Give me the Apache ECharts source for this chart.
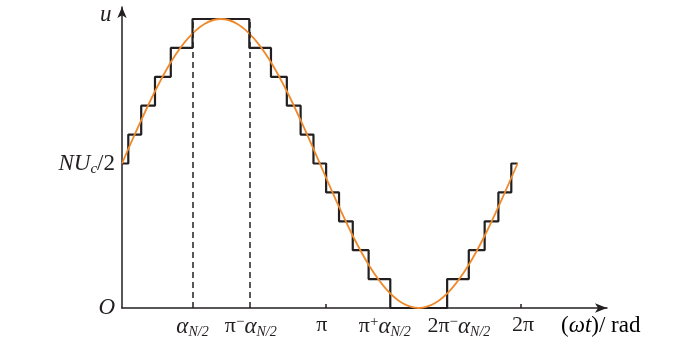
<!DOCTYPE html>
<html>
<head>
<meta charset="utf-8">
<script src="https://cdn.jsdelivr.net/npm/echarts@6/dist/echarts.min.js"></script>
<style>
    html, body { margin: 0; padding: 0; background: #fff; }
    #main { width: 700px; height: 344px; }
</style>
</head>
<body>
<div id="main"></div>
<script>
// reference sine, omega*t in rad and level in units of Uc
var sineX = [0, 0.262, 0.524, 0.785, 1.047, 1.309, 1.571, 1.833, 2.094, 2.356, 2.618, 2.880, 3.142,
    3.403, 3.665, 3.927, 4.189, 4.451, 4.712, 4.974, 5.236, 5.498, 5.760, 6.021, 6.283];
var sineY = [5, 6.29, 7.5, 8.54, 9.33, 9.83, 10, 9.83, 9.33, 8.54, 7.5, 6.29, 5,
    3.71, 2.5, 1.46, 0.67, 0.17, 0, 0.17, 0.67, 1.46, 2.5, 3.71, 5];

// staircase: angle where the level switches, and the new level
var stepX = [0, 0.100, 0.305, 0.524, 0.775, 1.120, 2.022, 2.366, 2.618, 2.837, 3.041,
    3.242, 3.447, 3.665, 3.917, 4.261, 5.164, 5.508, 5.760, 5.978, 6.183, 6.283];
var stepLevel = [5, 6, 7, 8, 9, 10, 9, 8, 7, 6, 5, 4, 3, 2, 1, 0, 1, 2, 3, 4, 5, 5];

// dashed guides at alpha and pi-alpha
var guideX = [1.120, 2.022];

// x tick marks and labels (positions)
var xTickValues = [3.233, 6.33];
var xLabelValues = [1.120, 2.045, 3.174, 4.174, 5.35, 6.37];
var xLabelTexts = [
    '{g|α}{s|N/2}',
    '{n|π}{m|−}{g|α}{s|N/2}',
    '{n|π}',
    '{n|π}{m|+}{g|α}{s|N/2}',
    '{n|2π}{m|−}{g|α}{s|N/2}',
    '{n|2π}'
];

var yLabelValues = [0, 5];
var yLabelTexts = ['{i|O}', '{i|NU}{c|c}{n|/2}'];

var ink = '#231f20';
var orange = '#f0892a';
var serif = '"Liberation Serif", "DejaVu Serif", serif';

var i, sineData = [], stepData = [], guides = [];
for (i = 0; i < sineX.length; i++) {
    sineData.push([sineX[i], sineY[i]]);
}
for (i = 0; i < stepX.length; i++) {
    stepData.push([stepX[i], stepLevel[i]]);
}
for (i = 0; i < guideX.length; i++) {
    guides.push([{coord: [guideX[i], 0]}, {coord: [guideX[i], 10]}]);
}

var labelRich = {
    n: {fontFamily: serif, fontSize: 22, color: ink},
    g: {fontFamily: serif, fontSize: 23, fontStyle: 'italic', color: ink},
    s: {fontFamily: serif, fontSize: 14, fontStyle: 'italic', color: ink, padding: [11, 0, 0, 0]},
    m: {fontFamily: serif, fontSize: 15, color: ink, padding: [0, 0, 8, 0]}
};

var myChart = echarts.init(document.getElementById('main'), null, {renderer: 'canvas'});

myChart.setOption({
    animation: false,
    backgroundColor: '#fff',
    grid: {left: 122, right: 93, top: 7, bottom: 36, containLabel: false},
    xAxis: {
        type: 'value',
        min: 0,
        max: 7.703,
        splitLine: {show: false},
        axisLine: {
            show: true,
            onZero: false,
            symbol: ['none', 'arrow'],
            symbolSize: [7, 12],
            lineStyle: {color: ink, width: 1.5}
        },
        axisTick: {
            show: true,
            inside: true,
            length: 4,
            customValues: xTickValues,
            lineStyle: {color: ink, width: 1.5}
        },
        axisLabel: {
            show: true,
            margin: 6,
            customValues: xLabelValues,
            formatter: function (value) {
                var k = xLabelValues.indexOf(value);
                return k >= 0 ? xLabelTexts[k] : '';
            },
            rich: labelRich
        }
    },
    yAxis: {
        type: 'value',
        min: 0,
        max: 10.415,
        splitLine: {show: false},
        axisLine: {
            show: true,
            onZero: false,
            symbol: ['none', 'arrow'],
            symbolSize: [7, 11],
            lineStyle: {color: ink, width: 1.5}
        },
        axisTick: {show: false},
        axisLabel: {
            show: true,
            margin: 7,
            customValues: yLabelValues,
            formatter: function (value) {
                var k = yLabelValues.indexOf(value);
                return k >= 0 ? yLabelTexts[k] : '';
            },
            rich: {
                i: {fontFamily: serif, fontSize: 23, fontStyle: 'italic', color: ink},
                c: {fontFamily: serif, fontSize: 15, fontStyle: 'italic', color: ink, padding: [12, 0, 0, 0]},
                n: {fontFamily: serif, fontSize: 23, color: ink}
            }
        }
    },
    graphic: [
        {
            type: 'text',
            left: 100,
            top: 3,
            style: {text: 'u', font: 'italic 23px ' + serif, fill: ink}
        },
        {
            type: 'text',
            left: 561,
            top: 314,
            style: {
                text: '{n|(}{i|ωt}{n|)/ rad}',
                rich: {
                    n: {fontFamily: serif, fontSize: 23, color: ink},
                    i: {fontFamily: serif, fontSize: 23, fontStyle: 'italic', color: ink}
                }
            }
        }
    ],
    series: [
        {
            name: 'sine',
            type: 'line',
            data: sineData,
            smooth: 0.35,
            showSymbol: false,
            symbol: 'none',
            lineStyle: {color: orange, width: 1.8},
            z: 3
        },
        {
            name: 'staircase',
            type: 'line',
            data: stepData,
            step: 'end',
            showSymbol: false,
            symbol: 'none',
            lineStyle: {color: ink, width: 2.2},
            z: 2,
            markLine: {
                silent: true,
                symbol: ['none', 'none'],
                label: {show: false},
                lineStyle: {color: ink, width: 1.5, type: [6, 4]},
                data: guides
            }
        }
    ]
});
</script>
</body>
</html>
